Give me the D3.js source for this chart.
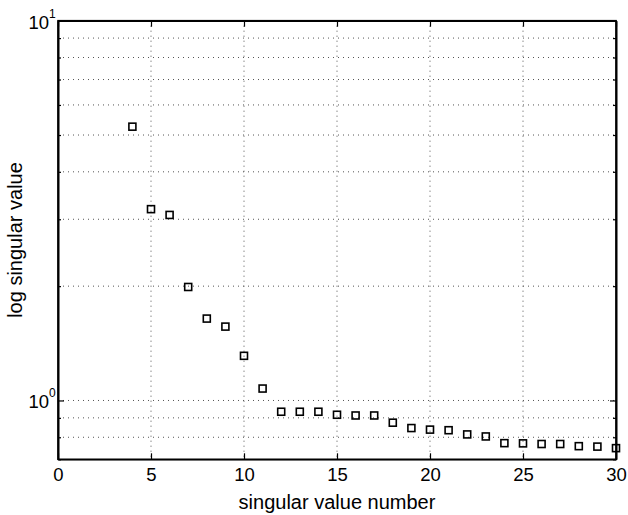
<!DOCTYPE html>
<html>
<head>
<meta charset="utf-8">
<script src="https://cdn.jsdelivr.net/npm/d3@7"></script>
<style>
	body{margin:0;background:#fff;}
	svg{display:block;font-family:'Liberation Sans',Arial,sans-serif;}
</style>
</head>
<body>
<div id="chart"></div>
<script>
var svg_width=628
	svg_height=515;

var margin_left=58
	margin_top=20.7
	margin_right=12
	margin_bottom=55.7;

// singular value number and value
var sv_number=[4,5,6,7,8,9,10,11,12,13,14,15,16,17,18,19,20,21,22,23,24,25,26,27,28,29,30];
var sv_value=[5.26,3.19,3.08,1.99,1.643,1.565,1.311,1.075,0.934,0.934,0.934,0.917,0.913,0.913,0.874,0.846,0.838,0.835,0.814,0.804,0.772,0.771,0.768,0.768,0.758,0.756,0.749];

var x_ticks=[0,5,10,15,20,25,30];
var y_major=[1,10];
var y_minor=[0.7,0.8,0.9,2,3,4,5,6,7,8,9];
var y_exp=["0","1"];

var tick_font=18.5
	label_font=20;

var svg = d3.select("#chart").append("svg")
		.attr("width",svg_width)
		.attr("height",svg_height);

var x = d3.scaleLinear()
		.domain([0,30])
		.range([margin_left,svg_width-margin_right]);

var y = d3.scaleLog()
		.domain([0.7,10])
		.range([svg_height-margin_bottom,margin_top]);

var grid = svg.append("g");

// dotted grid
grid.selectAll(".vgrid")
	.data(x_ticks.slice(1,-1))
	.enter().append("line")
		.attr("class","vgrid")
		.attr("x1",function(d){return x(d);})
		.attr("x2",function(d){return x(d);})
		.attr("y1",y(10))
		.attr("y2",y(0.7))
		.attr("stroke","#555")
		.attr("stroke-width",1)
		.attr("stroke-dasharray","1,4");

grid.selectAll(".hgrid")
	.data(y_minor.slice(1).concat([1]))
	.enter().append("line")
		.attr("class","hgrid")
		.attr("x1",x(0))
		.attr("x2",x(30))
		.attr("y1",function(d){return y(d);})
		.attr("y2",function(d){return y(d);})
		.attr("stroke","#555")
		.attr("stroke-width",1)
		.attr("stroke-dasharray","1,4");

// axes, ticks pointing inward like matlab
var ax_bottom = svg.append("g")
		.attr("transform","translate(0,"+y(0.7)+")")
		.call(d3.axisBottom(x).tickValues(x_ticks).tickSizeInner(-6).tickSizeOuter(0).tickPadding(9));

var ax_top = svg.append("g")
		.attr("transform","translate(0,"+y(10)+")")
		.call(d3.axisTop(x).tickValues(x_ticks).tickSizeInner(-6).tickSizeOuter(0).tickFormat(""));

var ax_left = svg.append("g")
		.attr("transform","translate("+x(0)+",0)")
		.call(d3.axisLeft(y).tickValues(y_major).tickSizeInner(-6).tickSizeOuter(0).tickFormat(""));

var ax_left_minor = svg.append("g")
		.attr("transform","translate("+x(0)+",0)")
		.call(d3.axisLeft(y).tickValues(y_minor).tickSizeInner(-3).tickSizeOuter(0).tickFormat(""));

var ax_right = svg.append("g")
		.attr("transform","translate("+x(30)+",0)")
		.call(d3.axisRight(y).tickValues(y_major).tickSizeInner(-6).tickSizeOuter(0).tickFormat(""));

var ax_right_minor = svg.append("g")
		.attr("transform","translate("+x(30)+",0)")
		.call(d3.axisRight(y).tickValues(y_minor).tickSizeInner(-3).tickSizeOuter(0).tickFormat(""));

svg.selectAll(".domain")
	.attr("stroke","#000")
	.attr("stroke-width",1.6);
svg.selectAll(".tick line")
	.attr("stroke","#000")
	.attr("stroke-width",1.2);

ax_bottom.selectAll("text")
	.attr("font-size",tick_font+"px")
	.attr("font-family","'Liberation Sans',Arial,sans-serif")
	.attr("fill","#000");

// 10^n labels
var ylab = svg.append("g");
ylab.selectAll(".ylab")
	.data(y_major)
	.enter().append("text")
		.attr("class","ylab")
		.attr("x",x(0)-9)
		.attr("y",function(d){return y(d)+8;})
		.attr("text-anchor","end")
		.attr("font-size",tick_font+"px")
		.attr("fill","#000")
		.text("10");

ylab.selectAll(".yexp")
	.data(y_major)
	.enter().append("text")
		.attr("class","yexp")
		.attr("x",x(0)-9)
		.attr("y",function(d){return y(d)-3;})
		.attr("font-size","12px")
		.attr("fill","#000")
		.text(function(d,i){return y_exp[i];});

// box outline
svg.append("rect")
	.attr("x",x(0))
	.attr("y",y(10))
	.attr("width",x(30)-x(0))
	.attr("height",y(0.7)-y(10))
	.attr("fill","none")
	.attr("stroke","#000")
	.attr("stroke-width",1.6);

// markers
svg.append("g").selectAll(".pt")
	.data(sv_number)
	.enter().append("rect")
		.attr("class","pt")
		.attr("x",function(d){return x(d)-3.5;})
		.attr("y",function(d,i){return y(sv_value[i])-3.5;})
		.attr("width",7)
		.attr("height",7)
		.attr("fill","none")
		.attr("stroke","#000")
		.attr("stroke-width",1.6);

svg.append("text")
	.attr("x",(x(0)+x(30))/2)
	.attr("y",509)
	.attr("text-anchor","middle")
	.attr("font-size",label_font+"px")
	.attr("fill","#000")
	.text("singular value number");

svg.append("text")
	.attr("transform","translate(22,"+((y(10)+y(0.7))/2)+") rotate(-90)")
	.attr("text-anchor","middle")
	.attr("font-size",label_font+"px")
	.attr("fill","#000")
	.text("log singular value");
</script>
</body>
</html>
